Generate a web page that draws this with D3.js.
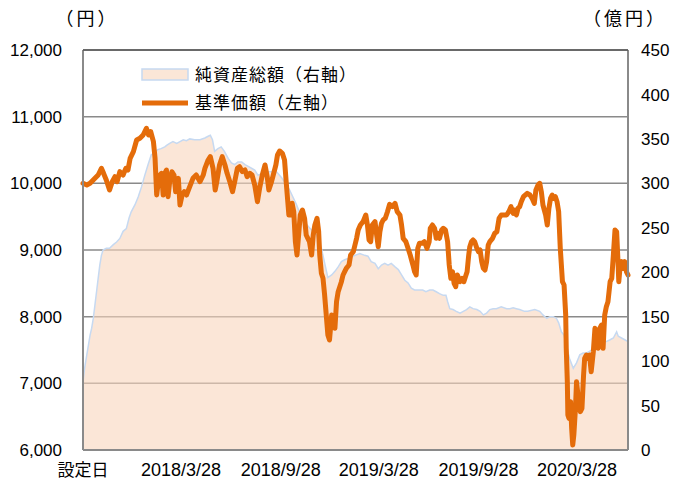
<!DOCTYPE html>
<html><head><meta charset="utf-8">
<script src="https://cdn.jsdelivr.net/npm/d3@7"></script>
<style>
html,body{margin:0;padding:0;background:#fff;}
svg{display:block;}
</style>
</head><body>
<svg id="chart" width="677" height="482"></svg>
<script>
// ---- data ----
const navDates = ["2017-09-28","2017-10-05","2017-10-11","2017-10-20","2017-10-26","2017-11-01","2017-11-05","2017-11-10","2017-11-16","2017-11-21","2017-11-26","2017-11-30","2017-12-05","2017-12-11","2017-12-16","2017-12-20","2017-12-24","2017-12-30","2018-01-05","2018-01-11","2018-01-17","2018-01-23","2018-01-27","2018-01-31","2018-02-05","2018-02-08","2018-02-11","2018-02-14","2018-02-17","2018-02-20","2018-02-23","2018-02-26","2018-03-01","2018-03-04","2018-03-07","2018-03-11","2018-03-15","2018-03-18","2018-03-23","2018-03-26","2018-03-30","2018-04-03","2018-04-07","2018-04-13","2018-04-19","2018-04-25","2018-05-02","2018-05-08","2018-05-11","2018-05-17","2018-05-21","2018-05-26","2018-05-30","2018-06-02","2018-06-07","2018-06-12","2018-06-17","2018-06-21","2018-06-26","2018-07-01","2018-07-05","2018-07-10","2018-07-14","2018-07-19","2018-07-24","2018-07-28","2018-08-02","2018-08-06","2018-08-11","2018-08-16","2018-08-20","2018-08-25","2018-08-30","2018-09-03","2018-09-06","2018-09-11","2018-09-15","2018-09-19","2018-09-22","2018-09-26","2018-10-01","2018-10-05","2018-10-08","2018-10-11","2018-10-13","2018-10-16","2018-10-19","2018-10-22","2018-10-25","2018-10-28","2018-10-31","2018-11-03","2018-11-07","2018-11-11","2018-11-14","2018-11-17","2018-11-20","2018-11-24","2018-11-27","2018-11-30","2018-12-04","2018-12-07","2018-12-09","2018-12-12","2018-12-15","2018-12-18","2018-12-21","2018-12-24","2018-12-27","2018-12-31","2019-01-03","2019-01-06","2019-01-09","2019-01-12","2019-01-15","2019-01-18","2019-01-21","2019-01-24","2019-01-27","2019-02-01","2019-02-04","2019-02-09","2019-02-12","2019-02-15","2019-02-18","2019-02-22","2019-02-27","2019-03-04","2019-03-07","2019-03-10","2019-03-13","2019-03-16","2019-03-21","2019-03-24","2019-03-27","2019-03-30","2019-04-02","2019-04-05","2019-04-09","2019-04-13","2019-04-17","2019-04-22","2019-04-27","2019-05-01","2019-05-06","2019-05-09","2019-05-12","2019-05-17","2019-05-21","2019-05-25","2019-05-30","2019-06-02","2019-06-05","2019-06-08","2019-06-11","2019-06-16","2019-06-20","2019-06-25","2019-06-29","2019-07-01","2019-07-05","2019-07-09","2019-07-12","2019-07-15","2019-07-18","2019-07-22","2019-07-25","2019-07-29","2019-08-02","2019-08-05","2019-08-08","2019-08-11","2019-08-14","2019-08-17","2019-08-20","2019-08-25","2019-08-29","2019-09-01","2019-09-05","2019-09-07","2019-09-10","2019-09-12","2019-09-15","2019-09-18","2019-09-21","2019-09-25","2019-09-28","2019-10-01","2019-10-04","2019-10-07","2019-10-10","2019-10-13","2019-10-16","2019-10-19","2019-10-24","2019-10-28","2019-11-01","2019-11-05","2019-11-09","2019-11-14","2019-11-19","2019-11-23","2019-11-27","2019-12-01","2019-12-04","2019-12-07","2019-12-10","2019-12-13","2019-12-16","2019-12-20","2019-12-27","2020-01-01","2020-01-05","2020-01-09","2020-01-12","2020-01-16","2020-01-19","2020-01-22","2020-01-25","2020-01-30","2020-02-02","2020-02-05","2020-02-08","2020-02-11","2020-02-14","2020-02-17","2020-02-20","2020-02-23","2020-02-26","2020-03-01","2020-03-04","2020-03-07","2020-03-08","2020-03-10","2020-03-11","2020-03-13","2020-03-16","2020-03-18","2020-03-20","2020-03-22","2020-03-25","2020-03-27","2020-03-29","2020-03-31","2020-04-03","2020-04-06","2020-04-09","2020-04-11","2020-04-14","2020-04-17","2020-04-20","2020-04-23","2020-04-27","2020-04-30","2020-05-03","2020-05-06","2020-05-09","2020-05-12","2020-05-15","2020-05-18","2020-05-21","2020-05-24","2020-05-28","2020-05-31","2020-06-03","2020-06-06","2020-06-09","2020-06-11","2020-06-13","2020-06-16","2020-06-18","2020-06-21","2020-06-24","2020-06-27","2020-06-30"];
const navValues = [10000,9975,10000,10075,10125,10225,10150,10050,9900,10025,10100,10025,10175,10125,10225,10200,10375,10475,10650,10675,10725,10825,10725,10775,10625,10375,9825,10025,10125,10150,9825,10150,10200,9800,10025,10175,10125,9875,10075,9675,9825,9875,9825,9950,10075,10125,10025,10125,10225,10350,10400,10225,9900,10025,10275,10400,10275,10150,10025,9875,10025,10225,10250,10175,10200,10100,10150,10125,9975,9725,9925,10125,10275,10100,9900,10025,10150,10275,10425,10485,10450,10350,10025,9725,9525,9525,9700,9575,9125,8925,9225,9525,9600,9475,9225,9175,9125,8925,9225,9375,9475,9275,8925,8650,8575,8325,8025,7725,7650,8025,7975,7825,8225,8375,8450,8525,8625,8675,8725,8775,8925,8975,9075,9175,9300,9375,9425,9525,9375,9150,9125,9375,9425,9225,9050,9275,9400,9450,9475,9575,9685,9650,9700,9575,9525,9375,9175,9125,9025,8925,8775,8675,8625,9025,9100,9100,9125,9025,9125,9325,9375,9325,9175,9250,9175,9300,9325,9300,9125,8775,8575,8675,8500,8450,8625,8525,8575,8525,8625,8675,8925,9050,9125,9150,9125,9025,8975,9000,8825,8725,8700,8825,9075,9125,9175,9250,9275,9475,9525,9525,9525,9575,9650,9550,9600,9525,9625,9650,9725,9800,9850,9825,9775,9700,9900,9975,10000,9875,9675,9525,9375,9625,9775,9825,9775,9800,9725,9575,9025,8525,8475,8025,7525,7025,6525,6475,6725,6325,6075,6225,6625,7025,6875,6675,6575,6625,7125,7375,7425,7375,7425,7175,7475,7825,7775,7525,7825,7875,7525,8025,8150,8225,8525,8575,8925,9300,9275,8925,8525,8800,8825,8725,8825,8675,8625];

const assetDates = ["2017-09-28","2017-10-01","2017-10-05","2017-10-08","2017-10-11","2017-10-14","2017-10-17","2017-10-20","2017-10-23","2017-10-26","2017-10-29","2017-11-01","2017-11-04","2017-11-10","2017-11-16","2017-11-23","2017-11-29","2017-12-05","2017-12-11","2017-12-17","2017-12-22","2017-12-26","2018-01-02","2018-01-08","2018-01-14","2018-01-20","2018-01-26","2018-02-01","2018-02-07","2018-02-13","2018-02-19","2018-02-26","2018-03-02","2018-03-07","2018-03-13","2018-03-20","2018-03-26","2018-04-01","2018-04-07","2018-04-13","2018-04-22","2018-05-02","2018-05-11","2018-05-17","2018-05-21","2018-05-25","2018-05-29","2018-06-04","2018-06-10","2018-06-16","2018-06-23","2018-06-29","2018-07-05","2018-07-11","2018-07-18","2018-07-24","2018-07-30","2018-08-05","2018-08-11","2018-08-17","2018-08-23","2018-08-30","2018-09-05","2018-09-11","2018-09-17","2018-09-23","2018-09-30","2018-10-14","2018-10-27","2018-11-07","2018-11-20","2018-12-03","2018-12-12","2018-12-24","2018-12-31","2019-01-06","2019-01-12","2019-01-18","2019-01-24","2019-02-02","2019-02-12","2019-02-21","2019-03-02","2019-03-08","2019-03-14","2019-03-21","2019-03-27","2019-04-02","2019-04-08","2019-04-14","2019-04-20","2019-04-27","2019-05-03","2019-05-09","2019-05-15","2019-05-21","2019-05-27","2019-06-02","2019-06-11","2019-06-17","2019-06-23","2019-06-30","2019-07-06","2019-07-12","2019-07-18","2019-07-25","2019-07-30","2019-08-02","2019-08-06","2019-08-12","2019-08-18","2019-08-25","2019-08-31","2019-09-06","2019-09-12","2019-09-18","2019-09-25","2019-10-01","2019-10-07","2019-10-13","2019-10-19","2019-10-25","2019-10-31","2019-11-09","2019-11-19","2019-11-25","2019-12-01","2019-12-07","2019-12-13","2019-12-22","2019-12-28","2020-01-10","2020-01-19","2020-01-25","2020-02-01","2020-02-07","2020-02-13","2020-02-19","2020-02-23","2020-02-28","2020-03-04","2020-03-08","2020-03-14","2020-03-21","2020-03-27","2020-04-02","2020-04-08","2020-04-14","2020-04-20","2020-04-27","2020-05-03","2020-05-09","2020-05-15","2020-05-21","2020-05-28","2020-06-03","2020-06-09","2020-06-12","2020-06-18","2020-06-24","2020-06-30"];
const assetValues = [77,92,107,118,129,137,148,163,178,193,208,219,225,227,227,231,234,238,246,249,261,268,276,285,296,309,321,332,334,338,339,341,343,345,347,345,347,349,348,350,349,349,351,353,354,349,336,339,341,336,328,323,321,324,324,321,319,317,315,309,311,313,313,313,315,311,306,293,276,259,250,242,227,194,197,201,206,212,214,216,219,221,219,218,212,210,204,208,210,208,210,206,203,197,191,188,182,180,180,180,178,180,180,178,176,174,174,167,159,158,156,154,156,158,161,159,158,156,152,154,158,159,159,161,159,159,160,159,158,156,156,158,156,152,148,150,150,148,143,133,129,118,103,92,98,107,109,109,111,114,118,118,122,122,124,126,133,128,126,124,122];

const leftTicks = [6000,7000,8000,9000,10000,11000,12000];
const rightTicks = [0,50,100,150,200,250,300,350,400,450];
const xTickDates = ["2017-09-28","2018-03-28","2018-09-28","2019-03-28","2019-09-28","2020-03-28"];
const xTickLabels = ["設定日","2018/3/28","2018/9/28","2019/3/28","2019/9/28","2020/3/28"];
const seriesNames = ["純資産総額（右軸）","基準価額（左軸）"];
const unitLeft = "（円）", unitRight = "（億円）";

// ---- layout ----
const L = 83, R = 628, T = 50, B = 450;
const parse = d3.timeParse("%Y-%m-%d");
const svg = d3.select("#chart");
const numFont = "'Liberation Sans', Arial, sans-serif";
const jpFont = "'Noto Sans CJK JP', sans-serif";

const x = d3.scaleTime().domain([parse("2017-09-28"), parse("2020-06-30")]).range([L, R]);
const yL = d3.scaleLinear().domain([6000, 12000]).range([B, T]);
const yR = d3.scaleLinear().domain([0, 450]).range([B, T]);

// gridlines
svg.append("g").selectAll("line").data(leftTicks).join("line")
  .attr("x1", L).attr("x2", R)
  .attr("y1", d => yL(d)).attr("y2", d => yL(d))
  .attr("stroke", "#8a8a8a").attr("stroke-width", 1.5);

// area (net assets)
const assets = assetDates.map((d, i) => ({ d: parse(d), v: assetValues[i] }));
svg.append("path").datum(assets)
  .attr("d", d3.area().x(p => x(p.d)).y0(yR(0)).y1(p => yR(p.v)))
  .attr("fill", "rgba(249,214,188,0.6)");
svg.append("path").datum(assets)
  .attr("d", d3.line().x(p => x(p.d)).y(p => yR(p.v)))
  .attr("fill", "none").attr("stroke", "#c6d9f1").attr("stroke-width", 1.5);

// NAV line
const nav = navDates.map((d, i) => ({ d: parse(d), v: navValues[i] }));
svg.append("path").datum(nav)
  .attr("d", d3.line().x(p => x(p.d)).y(p => yL(p.v)))
  .attr("fill", "none").attr("stroke", "#e46c0a").attr("stroke-width", 5)
  .attr("stroke-linejoin", "round").attr("stroke-linecap", "round");

// frame
svg.append("line").attr("x1", L).attr("x2", L).attr("y1", T).attr("y2", B).attr("stroke", "#8a8a8a").attr("stroke-width", 2);
svg.append("line").attr("x1", R).attr("x2", R).attr("y1", T).attr("y2", B).attr("stroke", "#8a8a8a").attr("stroke-width", 2);
svg.append("line").attr("x1", L).attr("x2", R).attr("y1", B).attr("y2", B).attr("stroke", "#8a8a8a").attr("stroke-width", 2);
svg.append("line").attr("x1", L).attr("x2", R).attr("y1", T).attr("y2", T).attr("stroke", "#555").attr("stroke-width", 1.5);

// left axis labels
const fmt = d3.format(",");
svg.append("g").selectAll("text").data(leftTicks).join("text")
  .attr("x", 62).attr("y", d => yL(d)).attr("dy", "0.36em")
  .attr("text-anchor", "end").attr("font-family", numFont).attr("font-size", 17).attr("fill", "#000")
  .text(d => fmt(d));
// right axis labels
svg.append("g").selectAll("text").data(rightTicks).join("text")
  .attr("x", 641).attr("y", d => yR(d)).attr("dy", "0.36em")
  .attr("text-anchor", "start").attr("font-family", numFont).attr("font-size", 17).attr("fill", "#000")
  .text(d => d);
// x labels
svg.append("g").selectAll("text").data(xTickDates).join("text")
  .attr("x", d => x(parse(d))).attr("y", 476)
  .attr("text-anchor", "middle").attr("font-family", (d, i) => i === 0 ? jpFont : numFont)
  .attr("font-size", (d, i) => i === 0 ? 17 : 18).attr("fill", "#000")
  .text((d, i) => xTickLabels[i]);

// unit labels
svg.append("text").attr("x", 87).attr("y", 25).attr("text-anchor", "middle")
  .attr("font-family", jpFont).attr("font-size", 18).attr("letter-spacing", 3).text(unitLeft);
svg.append("text").attr("x", 625).attr("y", 25).attr("text-anchor", "middle")
  .attr("font-family", jpFont).attr("font-size", 18).attr("letter-spacing", 3).text(unitRight);

// legend
const lg = svg.append("g");
lg.append("rect").attr("x", 142).attr("y", 69).attr("width", 46).attr("height", 11)
  .attr("fill", "rgba(249,214,188,0.6)").attr("stroke", "#c6d9f1").attr("stroke-width", 1.5);
lg.append("text").attr("x", 195).attr("y", 75).attr("dy", "0.36em")
  .attr("font-family", jpFont).attr("font-size", 17).attr("letter-spacing", 1).text(seriesNames[0]);
lg.append("line").attr("x1", 142).attr("x2", 188).attr("y1", 103).attr("y2", 103)
  .attr("stroke", "#e46c0a").attr("stroke-width", 5);
lg.append("text").attr("x", 195).attr("y", 103).attr("dy", "0.36em")
  .attr("font-family", jpFont).attr("font-size", 17).attr("letter-spacing", 1).text(seriesNames[1]);
</script>
</body></html>
